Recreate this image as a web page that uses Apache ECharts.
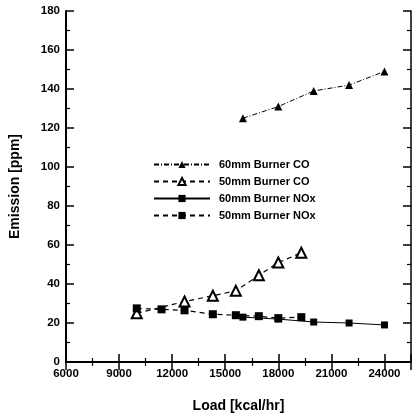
<!DOCTYPE html>
<html>
<head>
<meta charset="utf-8">
<script src="https://cdn.jsdelivr.net/npm/echarts@6/dist/echarts.min.js"></script>
<style>
  body { margin: 0; background: #fff; }
  #chart { width: 419px; height: 418px; }
</style>
</head>
<body>
<div id="chart"></div>
<script>
// load values
var co60Load = [16000, 18000, 20000, 22000, 24000];
var co60 = [125, 131, 139, 142, 149];
var co50Load = [10000, 12700, 14300, 15600, 16900, 18000, 19300];
var co50 = [25, 31, 34, 36.5, 44.5, 51, 56];
var nox60Load = [16000, 18000, 20000, 22000, 24000];
var nox60 = [23, 22, 20.5, 20, 19];
var nox50Load = [10000, 11400, 12700, 14300, 15600, 16900, 18000, 19300];
var nox50 = [27.5, 27, 26.5, 24.5, 24, 23.5, 22.5, 23];

var names = ['60mm Burner CO', '50mm Burner CO', '60mm Burner NOx', '50mm Burner NOx'];

function pairs(xs, ys) {
  var out = [];
  for (var i = 0; i < xs.length; i++) out.push([xs[i], ys[i]]);
  return out;
}

var font = 'Liberation Sans, Arial, sans-serif';
var chart = echarts.init(document.getElementById('chart'));

function xAx(top) {
  return {
    type: 'value', min: 6000, max: 25500, interval: 3000,
    position: top ? 'top' : 'bottom',
    name: top ? '' : 'Load [kcal/hr]',
    nameLocation: 'middle', nameGap: 37,
    nameTextStyle: { fontFamily: font, fontSize: 14, fontWeight: 'bold', color: '#000' },
    axisLine: { show: true, lineStyle: { color: '#000', width: top ? 1.5 : 2 } },
    axisTick: { show: true, inside: true, length: 8, lineStyle: { color: '#000', width: 1.5 } },
    minorTick: { show: true, splitNumber: 2, length: 4, lineStyle: { color: '#000', width: 1.2 } },
    axisLabel: {
      show: !top, margin: 6, fontFamily: font, fontSize: 11.5, fontWeight: 'bold', color: '#000',
      showMaxLabel: false,
      formatter: function (v) { return String(v); }
    },
    splitLine: { show: false }
  };
}

function yAx(right) {
  return {
    type: 'value', min: 0, max: 180, interval: 20,
    position: right ? 'right' : 'left',
    name: right ? '' : 'Emission [ppm]',
    nameLocation: 'middle', nameGap: 44,
    nameTextStyle: { fontFamily: font, fontSize: 14, fontWeight: 'bold', color: '#000' },
    axisLine: { show: true, lineStyle: { color: '#000', width: right ? 1.5 : 2 } },
    axisTick: { show: true, inside: true, length: 8, lineStyle: { color: '#000', width: 1.5 } },
    minorTick: { show: true, splitNumber: 2, length: 4, lineStyle: { color: '#000', width: 1.2 } },
    axisLabel: { show: !right, margin: 6, fontFamily: font, fontSize: 11.5, fontWeight: 'bold', color: '#000' },
    splitLine: { show: false }
  };
}

var option = {
  animation: false,
  grid: { left: 66, top: 11, right: 8, bottom: 56 },
  xAxis: [xAx(false), xAx(true)],
  yAxis: [yAx(false), yAx(true)],
  legend: {
    orient: 'vertical', left: 148, top: 154,
    itemWidth: 56, itemHeight: 9, itemGap: 6,
    textStyle: { fontFamily: font, fontSize: 11, fontWeight: 'bold', color: '#000', padding: [0, 0, 0, 4] },
    data: names
  },
  series: [
    {
      name: names[0], type: 'line', data: pairs(co60Load, co60),
      symbol: 'triangle', symbolSize: 8,
      itemStyle: { color: '#000' },
      lineStyle: { color: '#000', width: 1, type: [5, 2, 1, 2] }
    },
    {
      name: names[1], type: 'line', data: pairs(co50Load, co50),
      symbol: 'emptyTriangle', symbolSize: 10,
      itemStyle: { color: '#000', borderWidth: 1.5 },
      lineStyle: { color: '#000', width: 1.2, type: [5, 4] }
    },
    {
      name: names[2], type: 'line', data: pairs(nox60Load, nox60),
      symbol: 'rect', symbolSize: 7,
      itemStyle: { color: '#000' },
      lineStyle: { color: '#000', width: 1, type: 'solid' }
    },
    {
      name: names[3], type: 'line', data: pairs(nox50Load, nox50),
      symbol: 'rect', symbolSize: 8,
      itemStyle: { color: '#000' },
      lineStyle: { color: '#000', width: 1.2, type: [5, 4] }
    }
  ]
};
chart.setOption(option);
</script>
</body>
</html>
